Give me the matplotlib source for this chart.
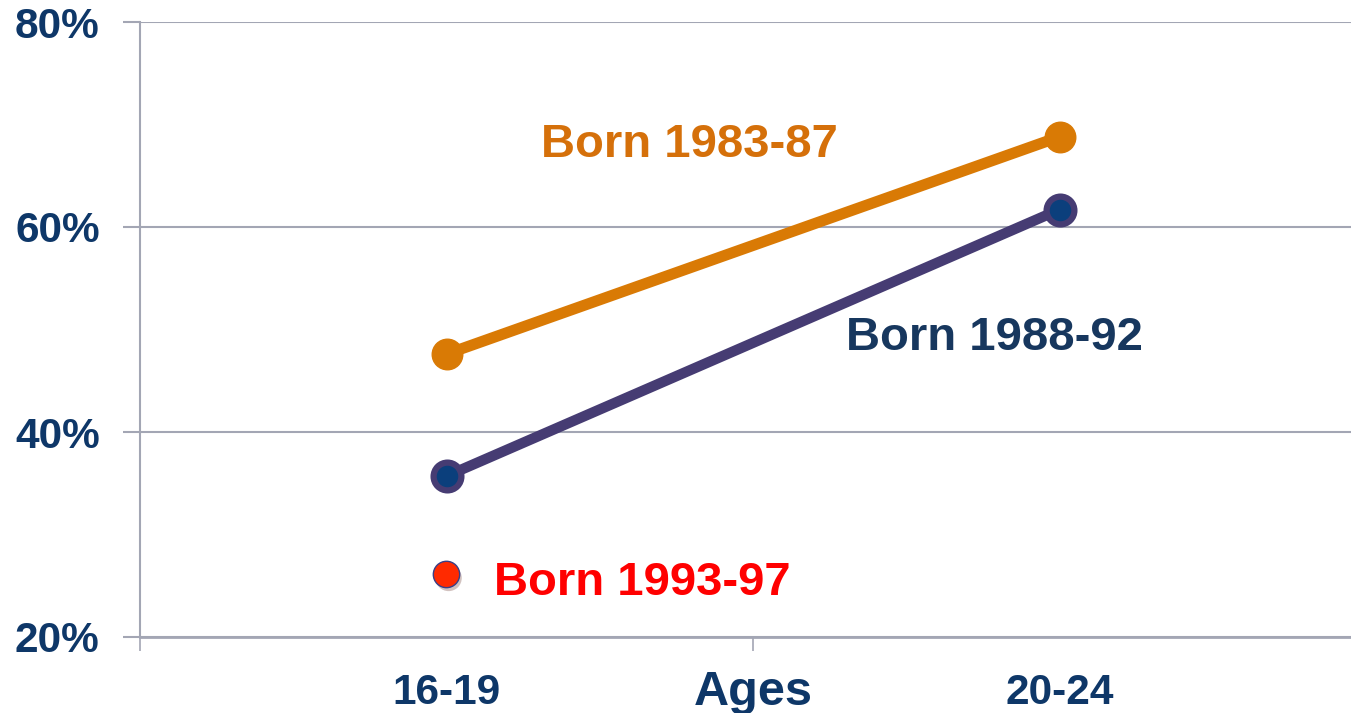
import matplotlib.pyplot as plt
import matplotlib.patheffects as pe
from matplotlib.ticker import FixedLocator, NullFormatter

# data
ages = ['16-19', '20-24']
born_83_87 = [47.6, 68.8]
born_88_92 = [35.7, 61.7]
born_93_97 = [26.1]

navy = '#0e3768'
grid_col = '#a3a6b4'

plt.rcParams['font.family'] = ['Liberation Sans', 'DejaVu Sans']

fig = plt.figure(figsize=(13.51, 7.13), dpi=100)
ax = fig.add_axes([140 / 1351, 1 - 637 / 713, 1226 / 1351, 615 / 713])

xpos = [0.5, 1.5]
shadow = [pe.SimplePatchShadow(offset=(1.5, -2.5), alpha=0.25), pe.Normal()]

ax.plot(xpos, born_83_87, color='#d97a05', lw=8, marker='o', ms=22,
        mfc='#d97a05', mec='#d97a05', solid_capstyle='butt', zorder=3)
ax.plot(xpos, born_88_92, color='#463c73', lw=7.5, marker='o', ms=20,
        mfc='#0b3f7c', mec='#463c73', mew=4.5, solid_capstyle='butt', zorder=3)
ax.plot(xpos[:1], born_93_97, ls='none', marker='o', ms=19,
        mfc='#ff2a00', mec='#3a3f86', mew=1, zorder=3,
        path_effects=shadow)

ax.text(0.896, 68.0, 'Born 1983-87', color='#d5700a', fontsize=34,
        fontweight='bold', ha='center', va='center')
ax.text(1.394, 49.2, 'Born 1988-92', color='#17375e', fontsize=34,
        fontweight='bold', ha='center', va='center')
ax.text(0.82, 25.3, 'Born 1993-97', color='#ff0000', fontsize=34,
        fontweight='bold', ha='center', va='center')

ax.set_xlim(0, 2)
ax.set_ylim(20, 80)
ax.set_yticks([20, 40, 60, 80])
ax.set_yticklabels(['20%', '40%', '60%', '80%'])
ax.yaxis.grid(True, color=grid_col, lw=1.5)
ax.set_axisbelow(True)

ax.xaxis.set_major_locator(FixedLocator([0, 1, 2]))
ax.xaxis.set_major_formatter(NullFormatter())
ax.xaxis.set_minor_locator(FixedLocator(xpos))
ax.set_xticklabels(ages, minor=True)
ax.tick_params(axis='x', which='minor', length=0, pad=26)
ax.tick_params(axis='x', which='major', length=10, width=1.2, color=grid_col)
ax.tick_params(axis='y', length=12, width=1.5, color=grid_col, pad=17)

for lab in ax.get_xticklabels(minor=True) + ax.get_yticklabels():
    lab.set_fontsize(30.5)
    lab.set_fontweight('bold')
    lab.set_color(navy)

ax.text(1.0, -0.111, 'Ages', transform=ax.get_xaxis_transform(),
        ha='center', va='baseline', fontsize=35, fontweight='bold', color=navy)

for s in ['top', 'right']:
    ax.spines[s].set_visible(False)
ax.spines['left'].set_color(grid_col)
ax.spines['left'].set_linewidth(1.5)
ax.spines['bottom'].set_color(grid_col)
ax.spines['bottom'].set_linewidth(2)

fig.savefig('out.png', dpi=100)
